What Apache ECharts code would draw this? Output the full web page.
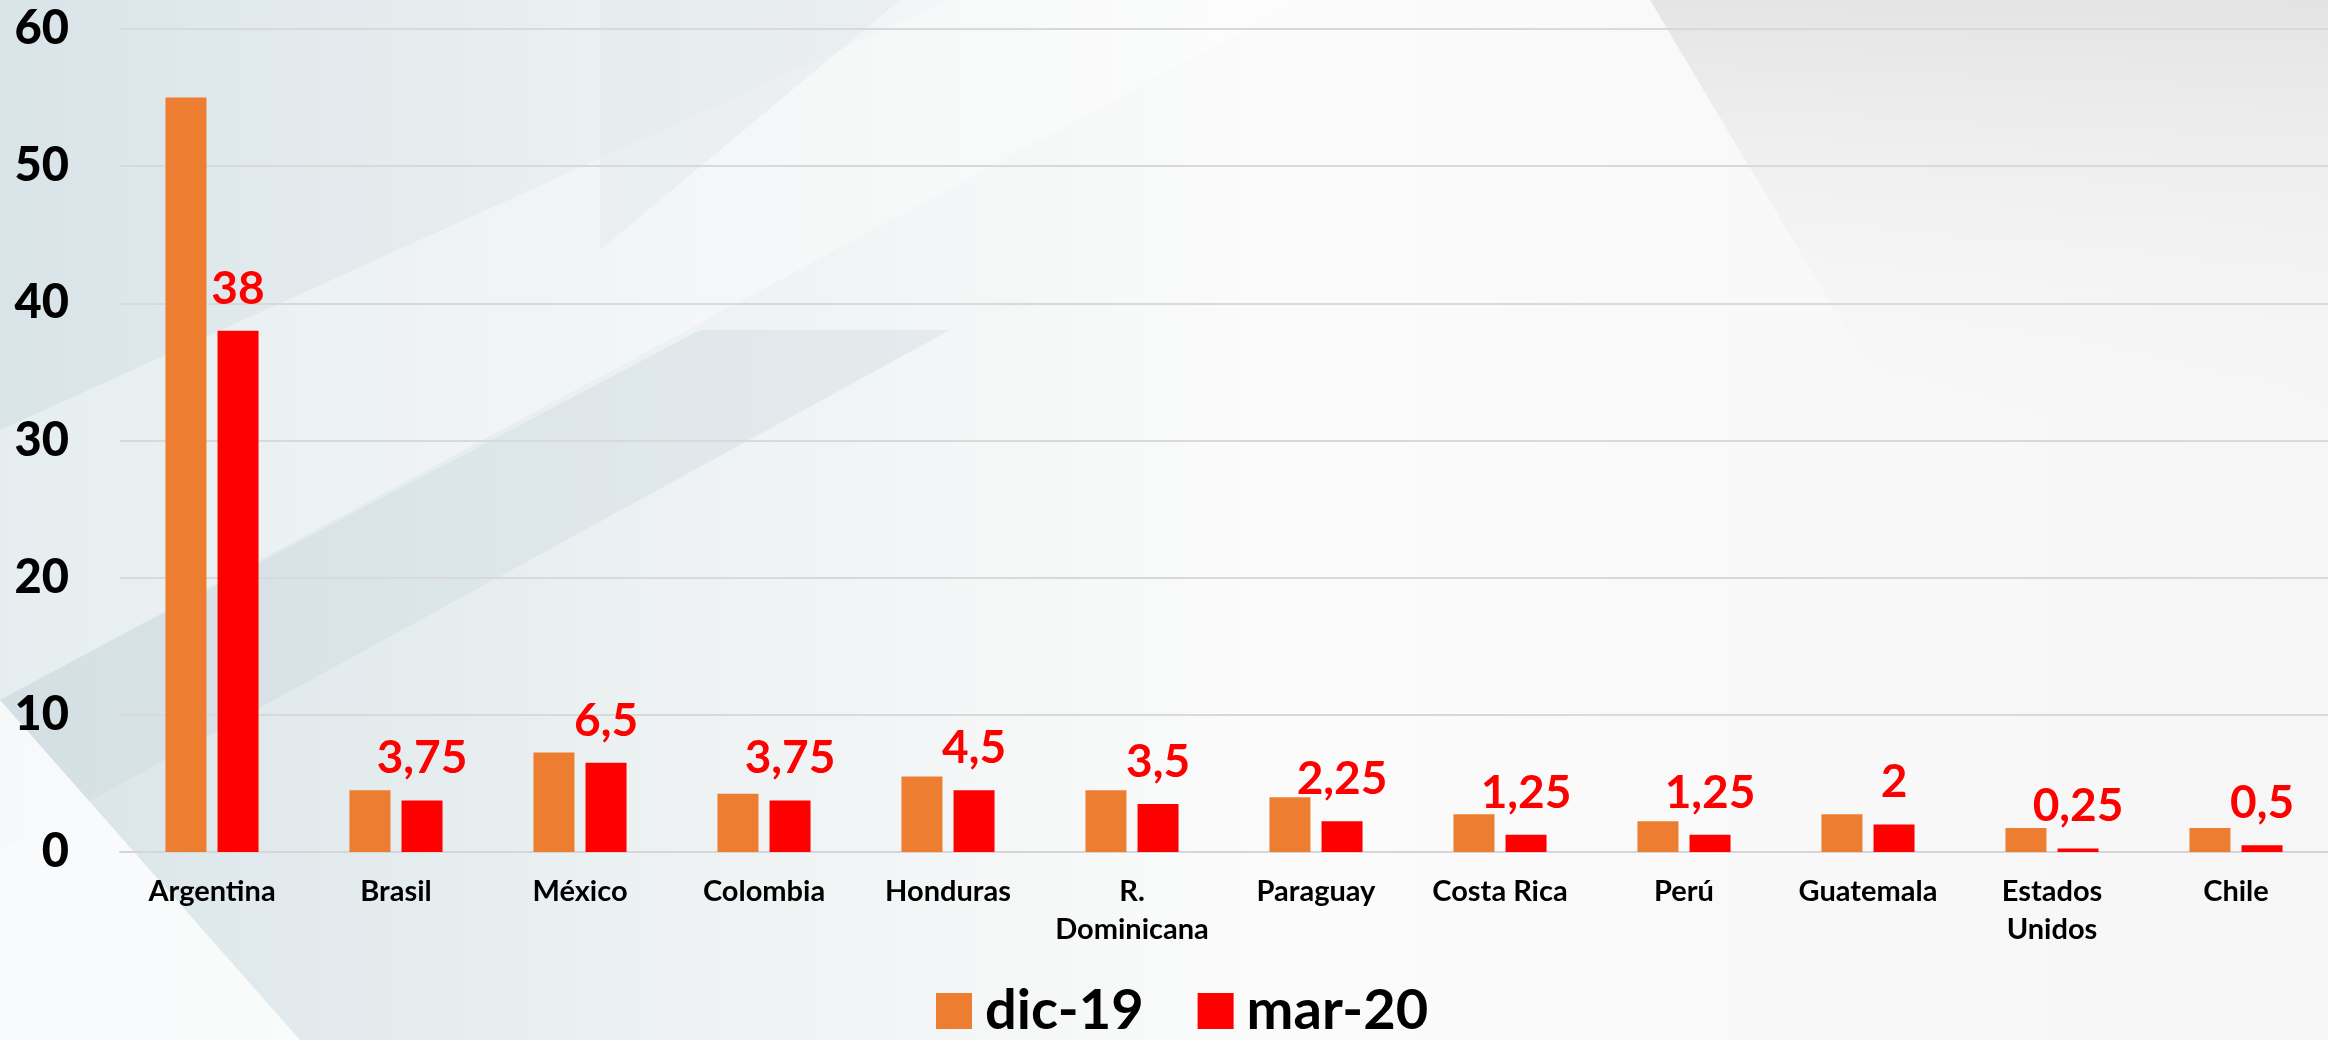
<!DOCTYPE html>
<html>
<head>
<meta charset="utf-8">
<script src="https://cdn.jsdelivr.net/npm/echarts@6/dist/echarts.min.js"></script>
<style>
html,body{margin:0;padding:0;background:#fafafa;}
#c{width:2328px;height:1040px;}
</style>
</head>
<body>
<div id="c"></div>
<script>
var categories = ['Argentina', 'Brasil', 'México', 'Colombia', 'Honduras', 'R.\nDominicana', 'Paraguay', 'Costa Rica', 'Perú', 'Guatemala', 'Estados\nUnidos', 'Chile'];
var dic19 = [55, 4.5, 7.25, 4.25, 5.5, 4.5, 4, 2.75, 2.25, 2.75, 1.75, 1.75];
var mar20 = [38, 3.75, 6.5, 3.75, 4.5, 3.5, 2.25, 1.25, 1.25, 2, 0.25, 0.5];
var seriesNames = ['dic-19', 'mar-20'];
var yTicks = {min: 0, max: 60, interval: 10};

var chart = echarts.init(document.getElementById('c'));
var font = 'Lato, "Open Sans", sans-serif';

var bg = [
  {type:'rect', z:-10, shape:{x:0,y:0,width:2328,height:1040}, style:{fill:{type:'linear',x:0,y:0,x2:1,y2:0,colorStops:[{offset:0,color:'#d9e4e8'},{offset:0.3,color:'#eef2f3'},{offset:0.55,color:'#fbfbfb'},{offset:1,color:'#f6f6f6'}]}}},
  {type:'polygon', z:-9, shape:{points:[[0,430],[950,0],[1300,0],[0,700]]}, style:{fill:'rgba(255,255,255,0.35)'}},
  {type:'polygon', z:-9, shape:{points:[[0,700],[700,330],[950,330],[0,850]]}, style:{fill:'rgba(200,215,222,0.35)'}},
  {type:'polygon', z:-9, shape:{points:[[0,700],[300,1040],[0,1040]]}, style:{fill:'rgba(255,255,255,0.8)'}},
  {type:'polygon', z:-9, shape:{points:[[1650,0],[2328,0],[2328,420],[1900,420]]}, style:{fill:{type:'linear',x:0,y:0,x2:0,y2:1,colorStops:[{offset:0,color:'rgba(215,215,215,0.6)'},{offset:1,color:'rgba(240,240,240,0)'}]}}},
  {type:'polygon', z:-9, shape:{points:[[600,0],[900,0],[600,250]]}, style:{fill:'rgba(225,232,236,0.5)'}}
];

chart.setOption({
  backgroundColor: 'transparent',
  graphic: bg,
  grid: {left: 120, right: 0, top: 29, bottom: 188, containLabel: false},
  legend: {
    left: 931, top: 978,
    itemWidth: 36, itemHeight: 36, itemGap: 54,
    icon: 'rect',
    textStyle: {fontFamily: font, fontWeight: 'bold', fontSize: 56, color: '#000', padding: [0,0,0,8]},
    data: seriesNames
  },
  xAxis: {
    type: 'category', data: categories,
    axisLine: {show: true, lineStyle: {color: '#d6d6d6', width: 2}},
    axisTick: {show: false},
    axisLabel: {interval: 0, margin: 21, fontFamily: font, fontWeight: 'bold', fontSize: 29, lineHeight: 38, color: '#000'}
  },
  yAxis: {
    type: 'value', min: yTicks.min, max: yTicks.max, interval: yTicks.interval,
    axisLine: {show: false}, axisTick: {show: false},
    splitLine: {lineStyle: {color: '#d9d9d9', width: 2}},
    axisLabel: {margin: 51, fontFamily: font, fontWeight: 900, fontSize: 47, color: '#000'}
  },
  series: [
    {name: seriesNames[0], type: 'bar', data: dic19, barWidth: 41, barGap: '27%', itemStyle: {color: '#ED7D31'}},
    {name: seriesNames[1], type: 'bar', data: mar20, barWidth: 41, itemStyle: {color: '#FF0000'},
     label: {show: true, position: 'top', distance: 19, fontFamily: font, fontWeight: 'bold', fontSize: 46, lineHeight: 46, color: '#FF0000',
       formatter: function(p){ return String(p.value).replace('.', ','); }}}
  ]
});
</script>
</body>
</html>
